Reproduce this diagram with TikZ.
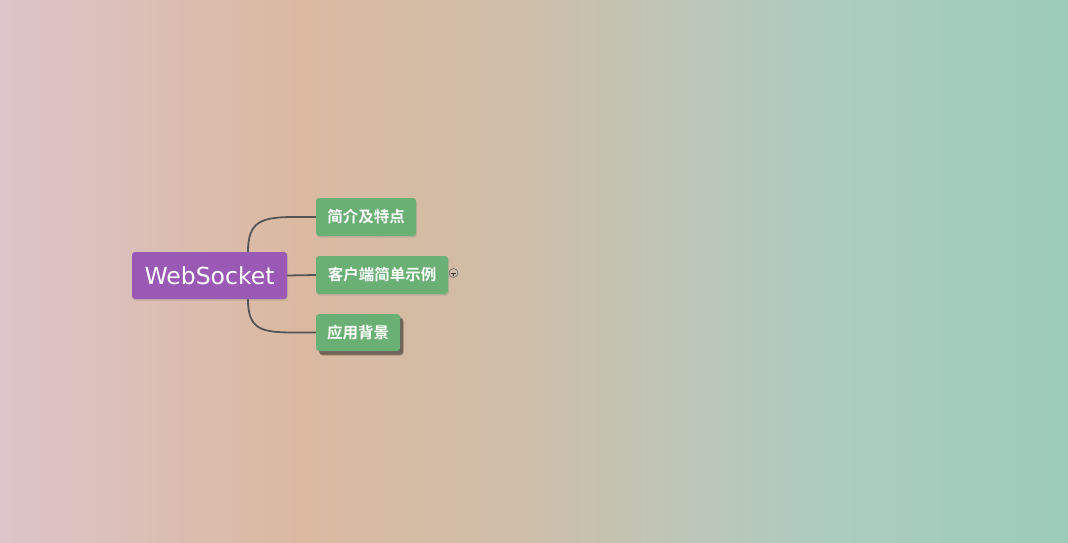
\documentclass[tikz,border=0pt]{standalone}
\usepackage{fontspec}
\setmainfont{DejaVu Sans}
\newfontfamily\cjk{Noto Sans CJK SC}[BoldFont={* Bold}]
\usetikzlibrary{shadows}
\definecolor{bgA}{RGB}{220,196,201}
\definecolor{bgB}{RGB}{219,185,160}
\definecolor{bgC}{RGB}{206,189,168}
\definecolor{bgD}{RGB}{190,198,183}
\definecolor{bgE}{RGB}{172,204,191}
\definecolor{bgF}{RGB}{156,204,184}
\definecolor{rootc}{RGB}{155,89,182}
\definecolor{leafc}{RGB}{106,176,116}
\definecolor{linkc}{RGB}{85,85,85}
\tikzset{
  rootbox/.style={fill=rootc, rounded corners=3pt, inner sep=0pt, text=white,
    font=\fontsize{23.5}{28}\selectfont, minimum width=155pt, minimum height=47pt,
    drop shadow={shadow xshift=1pt, shadow yshift=-1.5pt, opacity=0.25}},
  leafbox/.style={fill=leafc, rounded corners=3pt, inner sep=0pt, text=white,
    font=\cjk\bfseries\fontsize{15.5}{18}\selectfont, minimum height=38pt,
    drop shadow={shadow xshift=1pt, shadow yshift=-1.5pt, opacity=0.25}},
  leafdeep/.style={fill=leafc, rounded corners=3pt, inner sep=0pt, text=white,
    font=\cjk\bfseries\fontsize{15.5}{18}\selectfont, minimum height=38pt,
    general shadow={shadow xshift=3.5pt, shadow yshift=-4.5pt, fill=black, opacity=0.25},
    general shadow={shadow xshift=3pt, shadow yshift=-3.5pt, fill=black!80, opacity=0.45}},
  link/.style={draw=linkc, line width=1.8pt},
}
\begin{document}
\begin{tikzpicture}[x=1pt, y=-1pt]
\useasboundingbox (0,0) rectangle (1068,542);
% background gradient
\fill[left color=bgA, right color=bgB] (0,0) rectangle (300,542);
\fill[left color=bgB, right color=bgC] (299.5,0) rectangle (520,542);
\fill[left color=bgC, right color=bgD] (519.5,0) rectangle (680,542);
\fill[left color=bgD, right color=bgE] (679.5,0) rectangle (830,542);
\fill[left color=bgE, right color=bgF] (829.5,0) rectangle (1068,542);
% nodes
\node[rootbox] (root) at (209.5,275.5) {WebSocket};
\node[leafbox, minimum width=100pt] (c1) at (366,217) {简介及特点};
\node[leafbox, minimum width=132pt] (c2) at (382,275) {客户端简单示例};
\node[leafdeep, minimum width=84pt, minimum height=37pt] (c3) at (358,332.5) {应用背景};
% connectors
\draw[link] ([xshift=38.5pt]root.north) .. controls ([xshift=38.5pt,yshift=30pt]root.north) and ([xshift=-55pt]c1.west) .. ([xshift=-22pt]c1.west) -- (c1.west);
\draw[link] (root.east) -- (c2.west);
\draw[link] ([xshift=38.5pt]root.south) .. controls ([xshift=38.5pt,yshift=-30pt]root.south) and ([xshift=-55pt]c3.west) .. ([xshift=-22pt]c3.west) -- (c3.west);
% collapse toggle
\node[circle, draw=gray!80!black, line width=0.6pt, minimum size=9pt, inner sep=0pt] (tog) at (453.5,273) {};
\draw[gray!40!black, line width=0.7pt] ([xshift=-2.5pt]tog.center) -- ([xshift=2.5pt]tog.center);
\draw[gray!40!black, line width=0.7pt] (tog.center) -- ([yshift=-3pt]tog.center);
\end{tikzpicture}
\end{document}
